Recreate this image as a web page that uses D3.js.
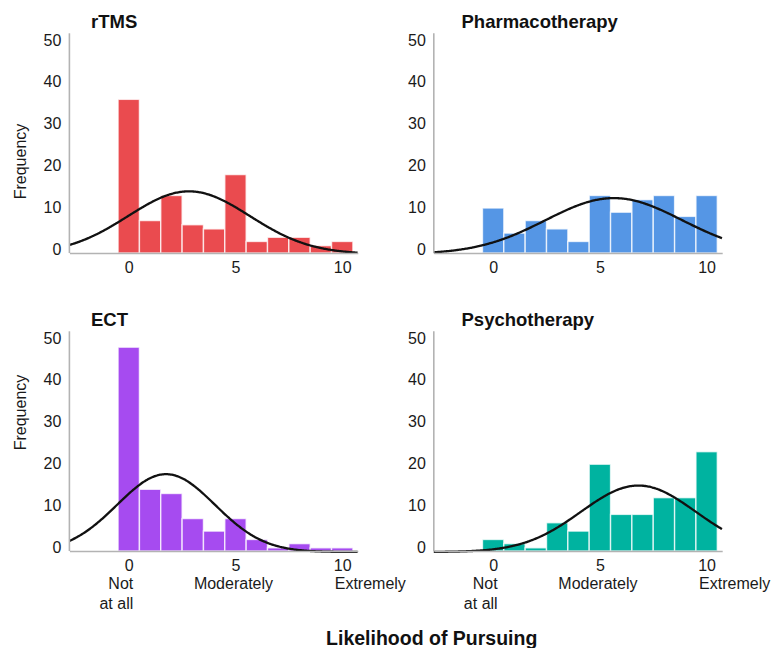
<!DOCTYPE html>
<html>
<head>
<meta charset="utf-8">
<script src="https://cdn.jsdelivr.net/npm/d3@7"></script>
<style>
  html, body { margin: 0; padding: 0; background: #fff; }
  svg { display: block; font-family: "Liberation Sans", Arial, Helvetica, sans-serif; }
</style>
</head>
<body>
<svg id="chart" width="772" height="648"></svg>
<script>
// Likelihood ratings (0 = not at all ... 10 = extremely), frequency per rating
const ratings = [0, 1, 2, 3, 4, 5, 6, 7, 8, 9, 10];
const rtmsCounts   = [37, 8, 14, 7, 6, 19, 3, 4, 4, 2, 3];
const pharmaCounts = [11, 5, 8, 6, 3, 14, 10, 13, 14, 9, 14];
const ectCounts    = [49, 15, 14, 8, 5, 8, 3, 1, 2, 1, 1];
const psychCounts  = [3, 2, 1, 7, 5, 21, 9, 9, 13, 13, 24];

const panelTitles = ["rTMS", "Pharmacotherapy", "ECT", "Psychotherapy"];
const panelColors = ["#ea4b4f", "#5596e5", "#a64bf0", "#00b3a0"];
const panelCounts = [rtmsCounts, pharmaCounts, ectCounts, psychCounts];

const yTicks = [0, 10, 20, 30, 40, 50];
const xTicks = [0, 5, 10];
const anchorLabels = ["Not\nat all", "Moderately", "Extremely"];

const svg = d3.select("#chart");

// layout of the 2 x 2 grid
const colLeft = [69.4, 433.8];
const rowBase = [253, 551];
const titleX = [91, 461.5];
const freqY = [161.5, 412.5];
const plotW = 288.4;
const yPx = 209;      // pixels for 0..50
const axisTopVal = 52.8;

panelCounts.forEach((counts, p) => {
  const col = p % 2, row = Math.floor(p / 2);
  const left = colLeft[col], base = rowBase[row];

  const x = d3.scaleLinear().domain([-2.78, 10.73]).range([left, left + plotW]);
  const y = d3.scaleLinear().domain([0, 50]).range([base + 1, base + 1 - yPx]);

  const g = svg.append("g");

  // histogram bars
  g.selectAll("rect.bar").data(ratings).join("rect")
    .attr("class", "bar")
    .attr("x", d => x(d - 0.5))
    .attr("width", d => x(d + 0.5) - x(d - 0.5))
    .attr("y", d => y(counts[d]))
    .attr("height", d => base - y(counts[d]))
    .attr("fill", panelColors[p])
    .attr("stroke", "rgba(255,255,255,0.75)")
    .attr("stroke-width", 1.4);

  // fitted normal curve, scaled to the number of responses
  const n = d3.sum(counts);
  const mean = d3.sum(ratings, (r, i) => r * counts[i]) / n;
  const variance = d3.sum(ratings, (r, i) => counts[i] * (r - mean) ** 2) / n;
  const sd = Math.sqrt(variance);
  const dens = v => n / (sd * Math.sqrt(2 * Math.PI)) * Math.exp(-0.5 * ((v - mean) / sd) ** 2);
  const grid = d3.range(-2.78, 10.731, 0.05);
  g.append("path")
    .datum(grid)
    .attr("fill", "none")
    .attr("stroke", "#111")
    .attr("stroke-width", 2.3)
    .attr("d", d3.line().x(v => x(v)).y(v => y(dens(v))).curve(d3.curveBasis));

  // axes
  const xAxis = g.append("g")
    .attr("transform", `translate(0,${base})`)
    .call(d3.axisBottom(x).tickValues(xTicks).tickSize(0).tickSizeOuter(0).tickPadding(9));
  xAxis.select(".domain").attr("stroke", "#b3b3b3").attr("stroke-width", 1.6);
  xAxis.selectAll("text")
    .attr("font-size", 16).attr("fill", "#1a1a1a")
    .attr("font-family", "Liberation Sans, Arial, sans-serif");

  const yAxis = g.append("g")
    .attr("transform", `translate(${left},0)`)
    .call(d3.axisLeft(y).tickValues(yTicks).tickSize(0).tickPadding(8));
  yAxis.select(".domain").remove();
  yAxis.selectAll("text")
    .attr("font-size", 16).attr("fill", "#1a1a1a")
    .attr("font-family", "Liberation Sans, Arial, sans-serif")
    .attr("transform", "translate(0,-5)");
  g.append("line")
    .attr("x1", left).attr("x2", left)
    .attr("y1", base).attr("y2", y(axisTopVal))
    .attr("stroke", "#b3b3b3").attr("stroke-width", 1.6);

  // panel title
  g.append("text")
    .attr("x", titleX[col]).attr("y", base - 232)
    .attr("dominant-baseline", "central")
    .attr("font-size", 18.5).attr("font-weight", "bold").attr("fill", "#111")
    .text(panelTitles[p]);

  // y-axis title on the left column
  if (col === 0) {
    g.append("text")
      .attr("transform", `translate(20.7,${freqY[row]}) rotate(-90)`)
      .attr("text-anchor", "middle").attr("dominant-baseline", "central")
      .attr("font-size", 16).attr("fill", "#1a1a1a")
      .text("Frequency");
  }

  // scale anchors under the bottom row
  if (row === 1) {
    const lab = g.append("g").attr("font-size", 16).attr("fill", "#1a1a1a");
    anchorLabels[0].split("\n").forEach((line, i) => {
      lab.append("text")
        .attr("x", x(xTicks[0]) + 4.5).attr("y", base + 32.3 + i * 20)
        .attr("text-anchor", "end").attr("dominant-baseline", "central")
        .text(line);
    });
    lab.append("text")
      .attr("x", x(xTicks[1]) - 2).attr("y", base + 32.3)
      .attr("text-anchor", "middle").attr("dominant-baseline", "central")
      .text(anchorLabels[1]);
    lab.append("text")
      .attr("x", x(xTicks[2]) - 7.5).attr("y", base + 32.3)
      .attr("text-anchor", "start").attr("dominant-baseline", "central")
      .text(anchorLabels[2]);
  }
});

// shared x-axis title
svg.append("text")
  .attr("x", 431.7).attr("y", 637.5)
  .attr("text-anchor", "middle").attr("dominant-baseline", "central")
  .attr("font-size", 19.5).attr("font-weight", "bold").attr("fill", "#111")
  .text("Likelihood of Pursuing");
</script>
</body>
</html>
